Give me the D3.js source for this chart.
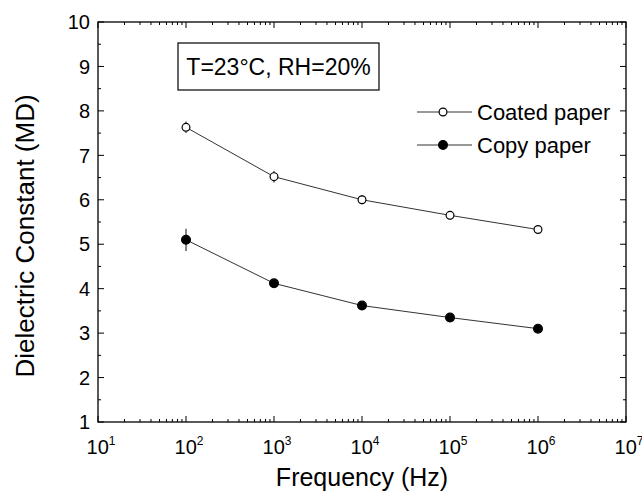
<!DOCTYPE html>
<html><head><meta charset="utf-8">
<script src="https://cdn.jsdelivr.net/npm/d3@7"></script>
<style>body{margin:0;background:#fff}svg{display:block}text{font-family:Arial,"Liberation Sans",sans-serif;fill:#000}</style>
</head><body><svg id="c" width="642" height="493"></svg>
<script>
const freqs = [1e2, 1e3, 1e4, 1e5, 1e6];
const coated = [7.63, 6.52, 6.0, 5.65, 5.33];
const coatedErr = [0.13, 0.13, 0.1, 0.1, 0.08];
const copy = [5.1, 4.12, 3.62, 3.35, 3.1];
const copyErr = [0.25, 0.06, 0.05, 0.05, 0.04];
const xTickExps = [1, 2, 3, 4, 5, 6, 7];
const yTicks = [1, 2, 3, 4, 5, 6, 7, 8, 9, 10];
const seriesNames = ["Coated paper", "Copy paper"];
const annotation = "T=23°C, RH=20%";

const svg = d3.select("#c");
const L = 98, R = 626, T = 22, B = 422;
const x = d3.scaleLog().domain([10, 1e7]).range([L, R]);
const y = d3.scaleLinear().domain([1, 10]).range([B, T]);

svg.append("rect").attr("x", L).attr("y", T).attr("width", R - L).attr("height", B - T)
  .attr("fill", "none").attr("stroke", "#000").attr("stroke-width", 1.3);

const xMinor = [];
for (let e = 1; e < 7; e++) for (let m = 2; m <= 9; m++) xMinor.push(m * Math.pow(10, e));
const g = svg.append("g").attr("stroke", "#000").attr("stroke-width", 1);
xMinor.forEach(v => {
  g.append("line").attr("x1", x(v)).attr("x2", x(v)).attr("y1", B).attr("y2", B - 3);
  g.append("line").attr("x1", x(v)).attr("x2", x(v)).attr("y1", T).attr("y2", T + 3);
});
xTickExps.forEach(e => {
  const v = Math.pow(10, e);
  g.append("line").attr("x1", x(v)).attr("x2", x(v)).attr("y1", B).attr("y2", B - 6);
  g.append("line").attr("x1", x(v)).attr("x2", x(v)).attr("y1", T).attr("y2", T + 6);
});
yTicks.forEach(v => {
  g.append("line").attr("x1", L).attr("x2", L + 6).attr("y1", y(v)).attr("y2", y(v));
  g.append("line").attr("x1", R).attr("x2", R - 6).attr("y1", y(v)).attr("y2", y(v));
  if (v < 10) {
    g.append("line").attr("x1", L).attr("x2", L + 3).attr("y1", y(v + 0.5)).attr("y2", y(v + 0.5));
    g.append("line").attr("x1", R).attr("x2", R - 3).attr("y1", y(v + 0.5)).attr("y2", y(v + 0.5));
  }
});

yTicks.forEach(v => {
  svg.append("text").attr("x", L - 8).attr("y", y(v)).attr("dy", "0.36em")
    .attr("text-anchor", "end").attr("font-size", 20).text(v);
});
xTickExps.forEach(e => {
  const t = svg.append("text").attr("x", x(Math.pow(10, e)) + 3).attr("y", 454)
    .attr("text-anchor", "middle").attr("font-size", 20);
  t.append("tspan").text("10");
  t.append("tspan").attr("dy", -9).attr("font-size", 12).text(e);
});

svg.append("text").attr("x", (L + R) / 2).attr("y", 486).attr("text-anchor", "middle")
  .attr("font-size", 25).text("Frequency (Hz)");
svg.append("text").attr("transform", `translate(34,${(T + B) / 2 + 14}) rotate(-90)`)
  .attr("text-anchor", "middle").attr("font-size", 26).text("Dielectric Constant (MD)");

svg.append("rect").attr("x", 178).attr("y", 43).attr("width", 201).attr("height", 47)
  .attr("fill", "none").attr("stroke", "#000").attr("stroke-width", 1.2);
svg.append("text").attr("x", 278.5).attr("y", 75).attr("text-anchor", "middle")
  .attr("font-size", 23).text(annotation);

const line = d3.line().x(d => x(d[0])).y(d => y(d[1]));
function drawSeries(vals, errs, filled) {
  const pts = freqs.map((f, i) => [f, vals[i]]);
  svg.append("path").attr("d", line(pts)).attr("fill", "none").attr("stroke", "#333").attr("stroke-width", 1);
  pts.forEach((p, i) => {
    svg.append("line").attr("x1", x(p[0])).attr("x2", x(p[0]))
      .attr("y1", y(p[1] - errs[i])).attr("y2", y(p[1] + errs[i]))
      .attr("stroke", "#333").attr("stroke-width", 1.2);
    svg.append("circle").attr("cx", x(p[0])).attr("cy", y(p[1])).attr("r", filled ? 4.4 : 3.9)
      .attr("fill", filled ? "#000" : "#fff").attr("stroke", "#000").attr("stroke-width", 1.2);
  });
}
drawSeries(coated, coatedErr, false);
drawSeries(copy, copyErr, true);

[[seriesNames[0], false, 112], [seriesNames[1], true, 145]].forEach(([name, filled, ly]) => {
  svg.append("line").attr("x1", 417).attr("x2", 472).attr("y1", ly).attr("y2", ly).attr("stroke", "#333");
  svg.append("circle").attr("cx", 443).attr("cy", ly).attr("r", filled ? 4.4 : 3.9)
    .attr("fill", filled ? "#000" : "#fff").attr("stroke", "#000").attr("stroke-width", 1.2);
  svg.append("text").attr("x", 477).attr("y", ly).attr("dy", "0.36em").attr("font-size", 22).text(name);
});
</script></body></html>
